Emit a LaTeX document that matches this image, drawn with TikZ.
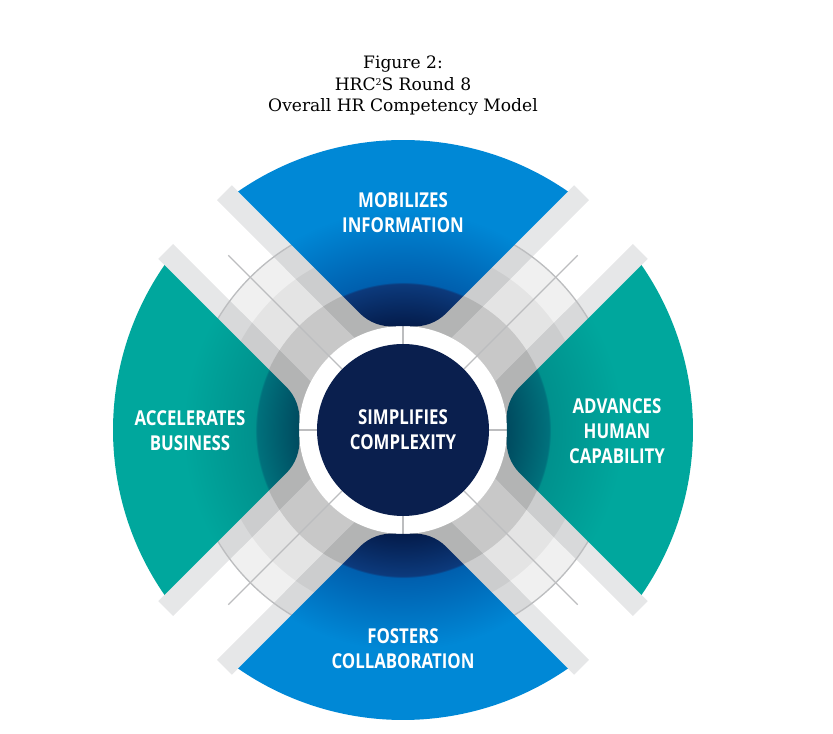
\documentclass[tikz,border=0pt]{standalone}
\usepackage{fontspec}
\setmainfont{DejaVu Serif}
\newfontfamily\fanfont{Open Sans}[FakeStretch=0.82]
\usepackage{tikz}
\usepackage{tkz-euclide}
\usetikzlibrary{calc}
\definecolor{bandgray}{HTML}{E6E7E8}
\definecolor{linegray}{HTML}{BCBDBF}
\definecolor{corenavy}{HTML}{0A1F4E}
\definecolor{fanblue}{HTML}{0088D6}
\definecolor{fanbluein}{HTML}{005FAE}
\definecolor{fannavyout}{HTML}{0C3A7C}
\definecolor{fannavyin}{HTML}{041B4A}
\definecolor{fanteal}{HTML}{00A79D}
\definecolor{fantealin}{HTML}{00918D}
\definecolor{fandarkout}{HTML}{00717C}
\definecolor{fandarkin}{HTML}{004A5F}

\pgfdeclareradialshading{bluefan}{\pgfpoint{0bp}{0bp}}{%
  color(0bp)=(fannavyin); color(8.9bp)=(fannavyin); color(12.6bp)=(fannavyout);
  color(12.75bp)=(fanbluein); color(19bp)=(fanblue); color(50bp)=(fanblue)}
\pgfdeclareradialshading{tealfan}{\pgfpoint{0bp}{0bp}}{%
  color(0bp)=(fandarkin); color(8.9bp)=(fandarkin); color(12.6bp)=(fandarkout);
  color(12.75bp)=(fantealin); color(19bp)=(fanteal); color(50bp)=(fanteal)}

\newcommand\fanpath{(55.33:290) arc[start angle=55.33,end angle=124.67,radius=290]
  -- (-43.20,116.74) arc[start angle=225,end angle=274.38,radius=45]
  arc[start angle=94.38,end angle=85.62,radius=104]
  arc[start angle=265.62,end angle=315,radius=45] -- cycle}

\begin{document}
\begin{tikzpicture}[%
  x=0.3mm, y=0.3mm,
  fanlabel/.style={text=white, align=center,
    font=\fanfont\bfseries\fontsize{17.5}{21.3}\selectfont},
  fanhalo/.style={draw=bandgray, line width=12.6mm},
  thinline/.style={draw=linegray, line width=0.4mm},
  shadow/.style={fill=black, fill opacity=#1},
]

  \useasboundingbox (-403,-304) rectangle (430,430);

  \tkzDefPoint(0,0){O}
  \tkzDefPoint(0,344){t}
  \tkzDefPoint(0,217){n}
  \tkzDefPoint(-213,-1){w}
  \tkzDefPoint(214,-1){e}
  \tkzDefPoint(0,-219){s}

  \foreach \a in {45,135,225,315} {
    \fill[bandgray,rotate=\a] (0,31) rectangle (294,52);
    \fill[bandgray,rotate=\a] (0,-52) rectangle (294,-31);
  }
  \begin{scope}
    \clip (O) circle[radius=200];
    \foreach \a in {0,90,180,270}
      \draw[fanhalo,rotate=\a] \fanpath;
  \end{scope}

  \fill[shadow=0.06] (O) circle[radius=216];
  \fill[shadow=0.05] (O) circle[radius=185];
  \fill[shadow=0.12] (O) circle[radius=147];
  \draw[thinline] (O) circle[radius=216];

  \fill[white] (O) circle[radius=104];
  \foreach \a in {45,135,225,315}
    \draw[thinline] (\a:86) -- (\a:247);
  \foreach \a in {0,90,180,270}
    \draw[thinline] (\a:86) -- (\a:104);

  \foreach \a/\f in {0/bluefan,90/tealfan,180/bluefan,270/tealfan} {
    \begin{scope}[rotate=\a]
      \clip \fanpath;
      \shade[shading=\f] (0,0) circle[radius=290];
    \end{scope}
  }

  \node[circle, fill=corenavy, minimum size=51.6mm, inner sep=0pt, fanlabel]
    (core) at (O) {SIMPLIFIES\\COMPLEXITY};
  \node[fanlabel] (mobilizes) at (n) {MOBILIZES\\INFORMATION};
  \node[fanlabel] (accelerates) at (w) {ACCELERATES\\BUSINESS};
  \node[fanlabel] (advances) at (e) {ADVANCES\\HUMAN\\CAPABILITY};
  \node[fanlabel] (fosters) at (s) {FOSTERS\\COLLABORATION};

  \node[align=center, font=\fontsize{14.6}{18.4}\selectfont] (title) at (t)
    {Figure 2:\\HRC\raisebox{0.6ex}{\fontsize{8}{8}\selectfont 2}S Round 8\\Overall HR Competency Model};

\end{tikzpicture}
\end{document}
